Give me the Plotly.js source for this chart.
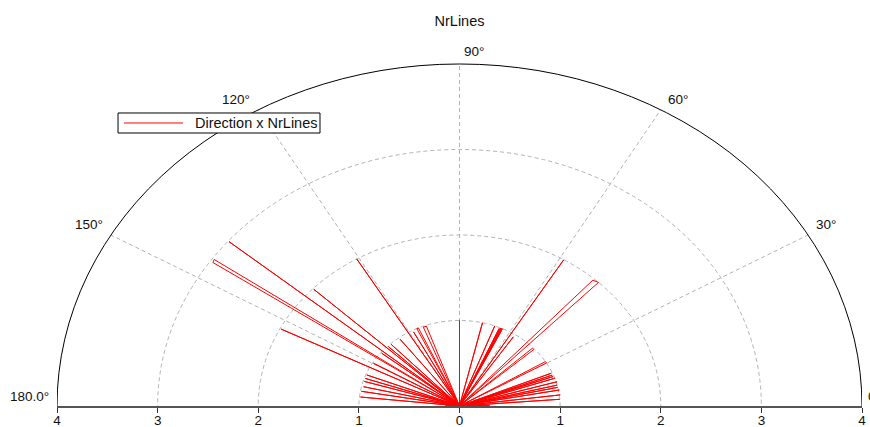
<!DOCTYPE html>
<html>
<head>
<meta charset="utf-8">
<script src="https://cdn.plot.ly/plotly-3.0.1.min.js"></script>
<style>
  html, body { margin: 0; padding: 0; background: #fff; }
  #chart { width: 870px; height: 427px; }
</style>
</head>
<body>
<div id="chart"></div>
<script>
// Direction (degrees) x NrLines, drawn as one continuous polyline;
// a value of 0 returns the line to the pole.
const direction = [
  1.5, 1.5, 3, 3, 4.5, 4.5, 7.4, 7.4, 10.7, 10.7, 12.6, 12.6, 14.1, 14.1,
  16.3, 16.3, 18.9, 18.9, 20.3, 20.3, 21.4, 21.4, 22.8, 22.8,
  30.2, 31.3, 31.3, 41.8, 43.0, 43.0, 46.3, 48.0, 48.0,
  56.5, 56.5, 58.8, 58.8, 64.7, 64.7, 65.3, 65.3, 65.9, 65.9, 66.5, 66.5,
  69.5, 69.5, 76.8, 76.8, 90, 90,
  109.4, 111.3, 111.3, 114.1, 115.1, 115.1, 117.8, 117.8, 120.7, 120.7,
  127.1, 127.1, 133.3, 133.3, 135.5, 135.5, 136.7, 136.7, 140.0, 140.0,
  141.4, 141.4, 144.9, 145.6, 145.6, 149.7, 149.7, 153.1, 153.1,
  158.5, 158.5, 161.0, 161.0, 163.1, 163.1, 166.7, 166.7, 170.0, 170.0,
  173.9, 173.9, 178.5, 178.5
];
const nrLines = [
  0.30, 0, 0.25, 0, 1.00, 0, 1.01, 0, 1.01, 0, 1.00, 0, 1.00, 0,
  1.01, 0, 1.00, 0, 0.99, 0, 0.99, 0, 0.99, 0,
  1.00, 1.00, 0, 0.99, 0.99, 0, 2.00, 1.98, 0,
  0.97, 0, 2.00, 0, 1.00, 0, 1.00, 0, 1.00, 0, 0.99, 0,
  1.00, 0, 1.00, 0, 1.00, 0,
  0.99, 0.99, 0, 1.00, 1.00, 0, 0.98, 0, 2.00, 0,
  0.98, 0, 0.99, 0, 0.99, 0, 1.99, 0, 2.99, 0,
  0.99, 0, 2.98, 2.97, 0, 0.99, 0, 1.99, 0,
  0.99, 0, 0.99, 0, 0.99, 0, 0.98, 0, 0.99, 0,
  0.99, 0, 0.14, 0
];
const seriesName = 'Direction x NrLines';

// Radial grid and angular grid
const radialRings = [1, 2, 3];
const outerRadius = 4;
const spokeAngles = [30, 60, 90, 120, 150];
const radialTicks = [-4, -3, -2, -1, 0, 1, 2, 3, 4];
const radialTickText = ['4', '3', '2', '1', '0', '1', '2', '3', '4'];

const X_RANGE = [-4, 4];
const Y_RANGE = [0, 4.035];
const rad = d => d * Math.PI / 180;
const FONT = 'Arial, Liberation Sans, sans-serif';
const RED = '#ff0000';

// Polar -> cartesian; the axes scale x and y independently
const xs = [0], ys = [0];
direction.forEach((d, i) => {
  xs.push(nrLines[i] * Math.cos(rad(d)));
  ys.push(nrLines[i] * Math.sin(rad(d)));
});

const gridLine = { color: '#b2b2b2', width: 1, dash: '4px,3px' };
const shapes = [];
radialRings.forEach(r => shapes.push({
  type: 'circle', xref: 'x', yref: 'y', x0: -r, x1: r, y0: -r, y1: r,
  line: gridLine, layer: 'below'
}));
spokeAngles.forEach(a => shapes.push({
  type: 'line', xref: 'x', yref: 'y', x0: 0, y0: 0,
  x1: outerRadius * Math.cos(rad(a)), y1: outerRadius * Math.sin(rad(a)),
  line: gridLine, layer: 'below'
}));
shapes.push({
  type: 'circle', xref: 'x', yref: 'y',
  x0: -outerRadius, x1: outerRadius, y0: -outerRadius, y1: outerRadius,
  line: { color: '#000', width: 1 }, layer: 'below'
});

// Compact boxed legend in the upper-left corner
const legendBox = { x0: 0.0758, x1: 0.3267, y0: 0.7913, y1: 0.8493 };
const legendMid = (legendBox.y0 + legendBox.y1) / 2;
shapes.push({
  type: 'rect', xref: 'paper', yref: 'paper',
  x0: legendBox.x0, x1: legendBox.x1, y0: legendBox.y0, y1: legendBox.y1,
  fillcolor: '#fff', line: { color: '#000', width: 1 }, layer: 'above'
});
shapes.push({
  type: 'line', xref: 'paper', yref: 'paper',
  x0: 0.0832, x1: 0.1565, y0: legendMid, y1: legendMid,
  line: { color: RED, width: 1 }, layer: 'above'
});

// Angle labels around the rim (placed in axis units, converted to paper
// fractions so the ones outside the plotting area still show)
const angleLabels = [
  { text: '90°',    x: 0.14,  y: 4.15, xanchor: 'center' },
  { text: '60°',    x: 2.05,  y: 3.58, xanchor: 'left' },
  { text: '120°',   x: -2.06, y: 3.58, xanchor: 'right' },
  { text: '30°',    x: 3.52,  y: 2.12, xanchor: 'left' },
  { text: '150°',   x: -3.52, y: 2.12, xanchor: 'right' },
  { text: '180.0°', x: -4.06, y: 0.11, xanchor: 'right' },
  { text: '0.0°',   x: 4.04,  y: 0.11, xanchor: 'left' }
];
const toPaperX = v => (v - X_RANGE[0]) / (X_RANGE[1] - X_RANGE[0]);
const toPaperY = v => (v - Y_RANGE[0]) / (Y_RANGE[1] - Y_RANGE[0]);
const annotations = angleLabels.map(l => ({
  text: l.text, x: toPaperX(l.x), y: toPaperY(l.y), xref: 'paper', yref: 'paper',
  xanchor: l.xanchor, yanchor: 'middle', showarrow: false,
  font: { family: FONT, size: 13.5, color: '#111' }
}));
annotations.push({
  text: seriesName, x: 0.169, y: legendMid, xref: 'paper', yref: 'paper',
  xanchor: 'left', yanchor: 'middle', showarrow: false,
  font: { family: FONT, size: 14.5, color: '#111' }
});

const trace = {
  type: 'scatter', mode: 'lines', x: xs, y: ys,
  name: seriesName,
  line: { color: RED, width: 1 },
  hoverinfo: 'skip'
};

const layout = {
  width: 870, height: 427,
  margin: { l: 57, r: 8, t: 61, b: 21 },
  paper_bgcolor: '#fff', plot_bgcolor: '#fff',
  font: { family: FONT, size: 13.5, color: '#111' },
  title: {
    text: 'NrLines', x: 0.5, xref: 'paper', xanchor: 'center',
    y: 1 - 20.5 / 427, yref: 'container', yanchor: 'middle',
    font: { size: 14.5, color: '#111' }
  },
  xaxis: {
    range: X_RANGE, tickvals: radialTicks, ticktext: radialTickText,
    showgrid: false, zeroline: false, showline: true,
    linecolor: '#555', linewidth: 2, ticks: 'outside', ticklen: 5,
    tickcolor: '#333', tickwidth: 1, fixedrange: true,
    ticklabelstandoff: -4,
    tickfont: { size: 13.5, color: '#111' }
  },
  yaxis: {
    range: Y_RANGE, visible: false, fixedrange: true
  },
  showlegend: false,
  shapes: shapes,
  annotations: annotations
};

Plotly.newPlot('chart', [trace], layout, { displayModeBar: false, staticPlot: true });
</script>
</body>
</html>
